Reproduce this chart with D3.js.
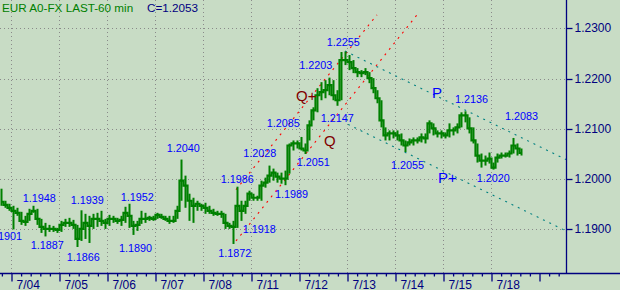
<!DOCTYPE html>
<html><head><meta charset="utf-8">
<script src="https://cdn.jsdelivr.net/npm/d3@7"></script>
<style>
html,body{margin:0;padding:0;background:#c8dcc5;overflow:hidden;}
svg{display:block;font-family:"Liberation Sans",Arial,sans-serif;}
</style></head><body>
<svg id="c" width="620" height="290"></svg>
<script>
// ---------- data ----------
const titleText = "EUR A0-FX LAST-60 min";
const lastClose = 1.2053;
const dayLabels = ["7/04","7/05","7/06","7/07","7/08","7/11","7/12","7/13","7/14","7/15","7/18"];
const yTicks = [1.19, 1.20, 1.21, 1.22, 1.23];
const firstBarHour = -5;      // hours relative to start of 7/04 (trading calendar)
const barStepHours = 2;
const highs = [1.1982,1.1958,1.1952,1.1948,1.1944,1.1936,1.1928,1.1942,1.1948,1.1942,
1.1922,1.1914,1.1910,1.1908,1.1904,1.1918,1.1922,1.1924,1.1920,1.1910,
1.1939,1.1932,1.1928,1.1932,1.1934,1.1938,1.1922,1.1930,1.1928,1.1924,
1.1928,1.1946,1.1952,1.1918,1.1918,1.1938,1.1934,1.1928,1.1928,1.1934,
1.1932,1.1928,1.1928,1.1928,1.1948,1.2040,1.2008,1.1972,1.1964,1.1958,
1.1952,1.1954,1.1948,1.1942,1.1938,1.1938,1.1932,1.1914,1.1918,1.1986,
1.1958,1.1958,1.1978,1.1972,1.1968,1.1998,1.2004,1.2028,1.2022,1.2014,
1.2014,1.2018,1.2072,1.2078,1.2078,1.2085,1.2072,1.2118,1.2144,1.2182,
1.2194,1.2198,1.2203,1.2198,1.2178,1.2254,1.2255,1.2248,1.2238,1.2222,
1.2218,1.2222,1.2214,1.2202,1.2178,1.2158,1.2104,1.2098,1.2098,1.2098,
1.2092,1.2078,1.2082,1.2084,1.2084,1.2092,1.2092,1.2118,1.2112,1.2098,
1.2098,1.2094,1.2112,1.2104,1.2112,1.2134,1.2136,1.2124,1.2104,1.2072,
1.2052,1.2048,1.2054,1.2034,1.2052,1.2054,1.2054,1.2058,1.2083,1.2072,
1.2062];
const lows = [1.1948,1.1944,1.1938,1.1901,1.1928,1.1910,1.1908,1.1918,1.1934,1.1910,
1.1894,1.1887,1.1896,1.1896,1.1894,1.1896,1.1906,1.1906,1.1902,1.1866,
1.1878,1.1882,1.1874,1.1902,1.1906,1.1908,1.1902,1.1908,1.1914,1.1912,
1.1908,1.1914,1.1904,1.1890,1.1898,1.1912,1.1914,1.1918,1.1918,1.1922,
1.1922,1.1918,1.1912,1.1914,1.1922,1.1958,1.1944,1.1918,1.1914,1.1938,
1.1938,1.1932,1.1932,1.1928,1.1928,1.1924,1.1902,1.1902,1.1872,1.1904,
1.1918,1.1932,1.1958,1.1958,1.1958,1.1958,1.1984,1.1994,1.1998,1.1994,
1.1992,1.1989,1.2012,1.2058,1.2062,1.2058,1.2051,1.2078,1.2118,1.2134,
1.2158,1.2162,1.2168,1.2158,1.2147,1.2158,1.2228,1.2218,1.2212,1.2204,
1.2204,1.2208,1.2192,1.2172,1.2152,1.2104,1.2078,1.2078,1.2082,1.2078,
1.2068,1.2055,1.2068,1.2068,1.2072,1.2074,1.2072,1.2092,1.2088,1.2084,
1.2082,1.2082,1.2084,1.2088,1.2092,1.2104,1.2114,1.2092,1.2072,1.2034,
1.2024,1.2028,1.2032,1.2020,1.2034,1.2042,1.2044,1.2044,1.2052,1.2048,
1.2048];
const closes = [1.1956,1.1950,1.1944,1.1938,1.1934,1.1918,1.1916,1.1932,1.1938,1.1922,
1.1906,1.1902,1.1902,1.1902,1.1900,1.1910,1.1914,1.1914,1.1910,1.1882,
1.1902,1.1914,1.1908,1.1922,1.1922,1.1918,1.1914,1.1922,1.1922,1.1918,
1.1920,1.1934,1.1928,1.1908,1.1910,1.1922,1.1922,1.1924,1.1922,1.1930,
1.1926,1.1922,1.1918,1.1918,1.1938,1.1998,1.1988,1.1958,1.1948,1.1952,
1.1948,1.1944,1.1938,1.1934,1.1932,1.1932,1.1914,1.1908,1.1906,1.1948,
1.1938,1.1948,1.1972,1.1964,1.1964,1.1988,1.1994,1.2008,1.2014,1.2006,
1.2002,1.2002,1.2068,1.2072,1.2072,1.2062,1.2058,1.2108,1.2138,1.2168,
1.2174,1.2178,1.2188,1.2168,1.2158,1.2238,1.2238,1.2234,1.2222,1.2214,
1.2212,1.2214,1.2202,1.2182,1.2162,1.2118,1.2088,1.2092,1.2092,1.2088,
1.2078,1.2068,1.2074,1.2078,1.2078,1.2084,1.2082,1.2112,1.2102,1.2092,
1.2092,1.2088,1.2098,1.2098,1.2104,1.2128,1.2128,1.2102,1.2078,1.2048,
1.2038,1.2038,1.2042,1.2024,1.2044,1.2048,1.2048,1.2052,1.2068,1.2062,
1.2053];
// swing points: bar index and whether it is a high or a low
const swingBars  = [3,8,11,19,20,32,33,45,58,59,60,67,71,75,76,82,84,86,101,116,123,128];
const swingKinds = ["lo","hi","lo","lo","hi","hi","lo","hi","lo","hi","lo","hi","lo","hi","lo","hi","lo","hi","lo","hi","lo","hi"];
// channel lines: [hour, price] endpoints
const qChannel = [[[112.25,1.1980],[182.75,1.2328]], [[112.25,1.1878],[202.75,1.2328]]];
const pChannel = [[[166.75,1.2256],[277.25,1.2040]], [[168.25,1.2110],[277.25,1.1898]]];
const qMarks = [["Q+",142.25,1.2157],["Q",156.25,1.2066]];
const pMarks = [["P",210.25,1.2162],["P+",213.25,1.1993]];

// ---------- drawing ----------
const W = 620, H = 290, axisX = 566.5, axisY = 273.5;
const svg = d3.select("#c");
const x = d3.scaleLinear().domain([-5.75, 277.25]).range([0, 566]);
const y = d3.scaleLinear().domain([1.19, 1.23]).range([229.9, 28.9]);
const hourOf = i => firstBarHour + i * barStepHours;
const crisp = v => Math.floor(v) + 0.5;

const dayHours = d3.range(0, dayLabels.length + 1).map(k => k * 24);
const minorHours = d3.range(-4.8, 274, 4.8).filter(h => Math.abs(h/24 - Math.round(h/24)) > 0.01);

// grid
const grid = svg.append("g").attr("stroke", "#8a8a8a").attr("stroke-dasharray", "1,3").attr("stroke-width", 1);
grid.selectAll("line.h").data(yTicks).join("line")
  .attr("x1", 0).attr("x2", axisX).attr("y1", d => crisp(y(d))).attr("y2", d => crisp(y(d)));
grid.selectAll("line.v").data(dayHours.slice(0, dayLabels.length)).join("line")
  .attr("x1", d => crisp(x(d))).attr("x2", d => crisp(x(d))).attr("y1", 0).attr("y2", axisY);

// channels
const lineGen = d3.line().x(d => x(d[0])).y(d => y(d[1]));
svg.append("g").selectAll("path").data(qChannel).join("path")
  .attr("d", lineGen).attr("fill", "none").attr("stroke", "#ff0000").attr("stroke-width", 1.1).attr("stroke-dasharray", "2,5");
svg.append("g").selectAll("path").data(pChannel).join("path")
  .attr("d", lineGen).attr("fill", "none").attr("stroke", "#008080").attr("stroke-width", 1.1).attr("stroke-dasharray", "2,5");

// price bars
const green = "#008000";
const bars = svg.append("g").attr("stroke", green);
bars.selectAll("line").data(highs).join("line")
  .attr("x1", (d,i) => x(hourOf(i))).attr("x2", (d,i) => x(hourOf(i)))
  .attr("y1", d => y(d)).attr("y2", (d,i) => y(lows[i])).attr("stroke-width", 2);
bars.append("path")
  .attr("d", d3.line().x((d,i) => x(hourOf(i))).y(d => y(d)).curve(d3.curveStep)(closes))
  .attr("fill", "none").attr("stroke-width", 2.2);

// swing labels
const labelOffsets = [[-24.5,11],[-10.8,-4],[-14.8,13],[-10.8,14],[-10.8,-6.5],[-8.8,-3],[-14.5,17.4],
  [-14.8,-7.3],[-15.2,13.3],[-16.8,-3.7],[1.2,12.4],[-26.2,-8.3],[-10.5,12.7],[-34.8,-9.7],[-8.8,11.5],
  [-30.2,-8.7],[-16.8,16.7],[-18.8,-6],[-14.5,16.8],[-10.5,-8.5],[-16.8,12.7],[-8.5,-18.4]];
svg.append("g").attr("fill", "#0000ff").attr("font-size", "10.8px")
  .selectAll("text").data(swingBars).join("text")
  .attr("x", (b,k) => x(hourOf(b)) + labelOffsets[k][0])
  .attr("y", (b,k) => y(swingKinds[k] === "hi" ? highs[b] : lows[b]) + labelOffsets[k][1])
  .text((b,k) => (swingKinds[k] === "hi" ? highs[b] : lows[b]).toFixed(4));

// channel marks
svg.append("g").attr("font-size", "15px").selectAll("text").data(qMarks.concat(pMarks)).join("text")
  .attr("x", d => x(d[1])).attr("y", d => y(d[2]))
  .attr("fill", (d,i) => i < qMarks.length ? "#800000" : "#0000ff")
  .text(d => d[0]);

// axes
const navy = "#000080";
svg.append("line").attr("x1", 0).attr("x2", W).attr("y1", axisY).attr("y2", axisY).attr("stroke", navy).attr("stroke-width", 1.3);
svg.append("line").attr("x1", axisX).attr("x2", axisX).attr("y1", 0).attr("y2", axisY).attr("stroke", navy).attr("stroke-width", 1.3);

const xMajor = d3.axisBottom(x).tickValues(dayHours).tickSize(8).tickSizeOuter(0)
  .tickFormat((d,i) => dayLabels[i] || "");
const gx = svg.append("g").attr("transform", `translate(0,${axisY})`).call(xMajor);
gx.select(".domain").remove();
gx.selectAll(".tick line").attr("stroke", navy).attr("stroke-width", 1.3);
gx.selectAll(".tick text").attr("fill", navy).attr("font-size", "12px")
  .attr("text-anchor", "start").attr("x", 4.5).attr("y", 15).attr("dy", 0)
  .attr("font-family", '"Liberation Sans",Arial,sans-serif');
const xMinor = d3.axisBottom(x).tickValues(minorHours).tickSize(3).tickSizeOuter(0).tickFormat("");
const gm = svg.append("g").attr("transform", `translate(0,${axisY})`).call(xMinor);
gm.select(".domain").remove();
gm.selectAll(".tick line").attr("stroke", navy).attr("stroke-width", 1.3);

const yAxis = d3.axisRight(y).tickValues(yTicks).tickSize(6).tickSizeOuter(0).tickFormat(d3.format(".4f"));
const gy = svg.append("g").attr("transform", `translate(${axisX},0)`).call(yAxis);
gy.select(".domain").remove();
gy.selectAll(".tick").attr("transform", d => `translate(0,${crisp(y(d))})`);
gy.selectAll(".tick line").attr("stroke", navy).attr("stroke-width", 1.3);
gy.selectAll(".tick text").attr("fill", navy).attr("font-size", "12px").attr("x", 8)
  .attr("font-family", '"Liberation Sans",Arial,sans-serif');

// title
svg.append("text").attr("x", 2).attr("y", 11.5).attr("fill", green).attr("font-size", "11.7px").text(titleText);
svg.append("text").attr("x", 147).attr("y", 11.5).attr("fill", navy).attr("font-size", "11.7px").text("C=" + lastClose.toFixed(4));
</script>
</body></html>
